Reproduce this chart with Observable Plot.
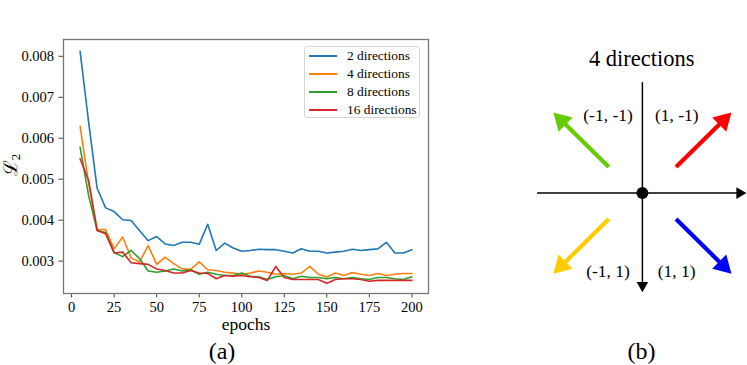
<!DOCTYPE html>
<html>
<head>
<meta charset="utf-8">
<script src="https://cdn.jsdelivr.net/npm/d3@7"></script>
<script src="https://cdn.jsdelivr.net/npm/@observablehq/plot@0.6"></script>
<style>
  body { margin: 0; background: #fff; }
  #wrap { position: relative; width: 747px; height: 365px; background: #fff; overflow: hidden; font-family: "Liberation Serif", "Times New Roman", serif; color: #000; }
  .lbl { position: absolute; transform: translate(-50%, -50%); white-space: nowrap; line-height: 1; }
  #legend { position: absolute; left: 304px; top: 46px; width: 116px; height: 72px; border: 1px solid #d6d6d6; border-radius: 3px; background: rgba(255,255,255,0.85); box-sizing: border-box; }
  .row { position: absolute; left: 0; height: 18px; display: flex; align-items: center; font-size: 13.4px; }
  .sw { width: 28px; height: 1.6px; margin-left: 4px; margin-right: 10px; }
</style>
</head>
<body>
<div id="wrap">
  <div id="left" style="position:absolute;left:0;top:0;width:440px;height:365px"></div>
  <div id="right" style="position:absolute;left:520px;top:0;width:227px;height:365px"></div>
  <div id="legend"></div>
  <div class="lbl" style="left:246px;top:325px;font-size:17.5px">epochs</div>
  <div class="lbl" style="left:11px;top:165px;font-size:19px;transform:translate(-50%,-50%) rotate(-90deg)">ℒ<sub style="font-size:13px;vertical-align:-3px">2</sub></div>
  <div class="lbl" style="left:222px;top:351px;font-size:24px">(a)</div>
  <div class="lbl" style="left:641.5px;top:351px;font-size:24px">(b)</div>
  <div class="lbl" style="left:641.7px;top:58.5px;font-size:22.5px">4 directions</div>
</div>
<script>
// ---------- data (left panel) ----------
const epochs = [5,10,15,20,25,30,35,40,45,50,55,60,65,70,75,80,85,90,95,100,
                105,110,115,120,125,130,135,140,145,150,155,160,165,170,175,180,185,190,195,200];
const seriesNames = ["2 directions", "4 directions", "8 directions", "16 directions"];
const seriesColors = ["#1f77b4", "#ff7f0e", "#2ca02c", "#d62728"];
const loss2 = [0.00812,0.0064,0.00478,0.0043,0.00421,0.00401,0.00399,0.00374,0.0035,0.0036,
               0.00342,0.00338,0.00346,0.00346,0.00341,0.0039,0.00326,0.00344,0.00332,0.00324,
               0.00326,0.00329,0.00328,0.00328,0.00324,0.0032,0.0033,0.00324,0.00324,0.0032,
               0.00322,0.00324,0.00329,0.00326,0.00328,0.0033,0.00346,0.0032,0.0032,0.00328];
const loss4 = [0.00629,0.0049,0.00378,0.00377,0.0033,0.00359,0.00308,0.00298,0.00338,0.00292,
               0.0031,0.00294,0.00281,0.0028,0.00298,0.00279,0.00277,0.00273,0.00271,0.00268,
               0.00271,0.00276,0.00273,0.00268,0.0027,0.00268,0.00271,0.00287,0.00268,0.00261,
               0.00271,0.00265,0.00272,0.00268,0.00265,0.0027,0.00265,0.00268,0.0027,0.0027];
const loss8 = [0.00578,0.0046,0.00375,0.0037,0.00321,0.00311,0.00326,0.00306,0.00276,0.00273,
               0.00276,0.00281,0.00276,0.00279,0.00268,0.00273,0.00268,0.00265,0.00265,0.00271,
               0.00263,0.00262,0.00255,0.00262,0.00265,0.00257,0.00263,0.0026,0.0026,0.00257,
               0.0026,0.00257,0.0026,0.00257,0.00255,0.0026,0.0026,0.00257,0.00255,0.00262];
const loss16 = [0.0055,0.00497,0.00375,0.00367,0.0032,0.00322,0.00296,0.00294,0.00292,0.00281,
                0.00277,0.00271,0.00271,0.00277,0.00271,0.0027,0.00257,0.00265,0.00263,0.00265,
                0.00262,0.0026,0.00253,0.00287,0.0026,0.00255,0.00255,0.00255,0.00255,0.00246,
                0.00255,0.00257,0.00257,0.00255,0.00251,0.00253,0.00253,0.00253,0.00253,0.00253];
const xTicks = [0, 25, 50, 75, 100, 125, 150, 175, 200];
const yTicks = [0.003, 0.004, 0.005, 0.006, 0.007, 0.008];

// ---------- data (right panel) ----------
const dirVectors = [[-1, -1], [1, -1], [-1, 1], [1, 1]];
const dirLabels = ["(-1, -1)", "(1, -1)", "(-1, 1)", "(1, 1)"];
const dirColors = ["#66cc00", "#ff0000", "#ffcc00", "#0000ff"];

// ---------- left chart ----------
const allLoss = [loss2, loss4, loss8, loss16];
const rows = [];
allLoss.forEach((vals, s) => epochs.forEach((e, i) => rows.push({epoch: e, value: vals[i], name: seriesNames[s]})));

const left = Plot.plot({
  width: 440, height: 365,
  marginLeft: 63, marginRight: 12, marginTop: 39, marginBottom: 72,
  style: {fontFamily: "'Liberation Serif', 'Times New Roman', serif", fontSize: "14.5px", color: "#000", background: "white"},
  x: {domain: [-4.75, 209.75]},
  y: {domain: [0.00221, 0.00841]},
  color: {domain: seriesNames, range: seriesColors},
  marks: [
    Plot.axisX({ticks: xTicks, tickSize: 4.5, tickPadding: 4, label: null, fontSize: 14.5, stroke: "#444", tickFormat: d => String(d)}),
    Plot.axisY({ticks: yTicks, tickSize: 4.5, tickPadding: 5, label: null, fontSize: 14.5, stroke: "#444", tickFormat: d => d.toFixed(3)}),
    ...seriesNames.map(n => Plot.lineY(rows.filter(r => r.name === n), {x: "epoch", y: "value", stroke: "name", strokeWidth: 1.6})),
    Plot.frame({stroke: "#777", strokeWidth: 1.3})
  ]
});
document.getElementById("left").appendChild(left);

// legend
const legend = document.getElementById("legend");
seriesNames.forEach((n, i) => {
  const row = document.createElement("div");
  row.className = "row";
  row.style.top = (0 + i * 18) + "px";
  const sw = document.createElement("div");
  sw.className = "sw";
  sw.style.background = seriesColors[i];
  const t = document.createElement("span");
  t.textContent = n;
  row.appendChild(sw); row.appendChild(t);
  legend.appendChild(row);
});

// ---------- right diagram ----------
const TAIL = [0.377, 0.322];
const HEAD_BACK = [0.093, 0.102];
const arrows = dirVectors.map(([dx, dy], i) => ({
  dx, dy, color: dirColors[i], label: dirLabels[i],
  x1: dx * TAIL[0], y1: dy * TAIL[1],
  x2: dx * (1 - HEAD_BACK[0]), y2: dy * (1 - HEAD_BACK[1])
}));
const axisXExtent = [-1.18, 1.166];
const axisYExtent = [-1.373, 1.226];
const axisBack = [0.075, 0.083];
const axes = [
  {x1: axisXExtent[0], y1: 0, x2: axisXExtent[1] - axisBack[0], y2: 0, dx: 1, dy: 0},
  {x1: 0, y1: axisYExtent[0], x2: 0, y2: axisYExtent[1] - axisBack[1], dx: 0, dy: 1}
];
const rot = d => Math.atan2(d.dx, -d.dy) * 180 / Math.PI;

const right = Plot.plot({
  width: 227, height: 365, margin: 0,
  style: {fontFamily: "'Liberation Serif', 'Times New Roman', serif", background: "transparent", color: "#000"},
  x: {domain: [-1, 1], range: [32.7, 211.1], axis: null},
  y: {domain: [-1, 1], range: [111.8, 273.4], axis: null},
  marks: [
    Plot.link(axes, {x1: "x1", y1: "y1", x2: "x2", y2: "y2", stroke: "black", strokeWidth: 1.5}),
    Plot.dot(axes, {x: "x2", y: "y2", symbol: "triangle", r: 4.3, fill: "black", stroke: "none", rotate: rot}),
    Plot.dot([{x: 0, y: 0}], {x: "x", y: "y", r: 6, fill: "black", stroke: "none"}),
    Plot.link(arrows, {x1: "x1", y1: "y1", x2: "x2", y2: "y2", stroke: d => d.color, strokeWidth: 4.2, strokeLinecap: "butt"}),
    Plot.dot(arrows, {x: "x2", y: "y2", symbol: "triangle", r: 7.4, fill: d => d.color, stroke: "none", rotate: rot}),
    Plot.text(arrows, {x: d => d.dx * 0.385, y: d => d.dy * 0.965, text: "label", fontSize: 17.5, fill: "black"})
  ]
});
document.getElementById("right").appendChild(right);
</script>
</body>
</html>
